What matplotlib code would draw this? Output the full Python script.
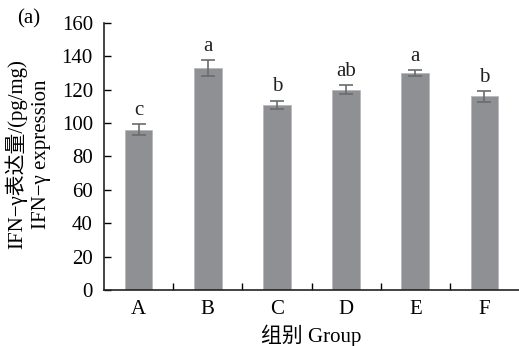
import matplotlib.pyplot as plt
from matplotlib.ticker import FixedLocator

plt.rcParams["font.family"] = ["Liberation Serif", "Noto Sans CJK SC"]
plt.rcParams["axes.unicode_minus"] = False

groups = ["A", "B", "C", "D", "E", "F"]
means = [96, 133, 111, 120, 130, 116]
errors = [3.4, 5.0, 2.5, 2.8, 1.6, 3.4]
letters = ["c", "a", "b", "ab", "a", "b"]

fig = plt.figure(figsize=(5.19, 3.46), dpi=100)
ax = fig.add_axes([0.2004, 0.162, 0.7996, 0.7715])

x = list(range(len(groups)))
ax.bar(x, means, width=0.4, color="#8f9094", edgecolor="#b8b9bb", linewidth=0.6, zorder=2)
ax.errorbar(x, means, yerr=errors, fmt="none", ecolor="#6a6b6e", elinewidth=1.2,
            capsize=5, capthick=1.2, zorder=3)

for xi, m, e, lab in zip(x, means, errors, letters):
    ax.text(xi, m + e + 2.5, lab, ha="center", va="bottom", fontsize=15, color="#222222")

ax.set_xlim(-0.5, 5.5)
ax.set_ylim(0, 160)
ax.set_yticks(range(0, 161, 20))
ax.set_xticks(x)
ax.set_xticklabels(groups)
ax.xaxis.set_minor_locator(FixedLocator([i + 0.5 for i in range(5)]))

ax.tick_params(axis="y", direction="in", length=5, width=1, labelsize=15, pad=8)
ax.tick_params(axis="x", which="major", length=0, labelsize=15, pad=7)
ax.tick_params(axis="x", which="minor", direction="in", length=5, width=1)

for side in ["top", "right"]:
    ax.spines[side].set_visible(False)
for side in ["left", "bottom"]:
    ax.spines[side].set_linewidth(1.2)
    ax.spines[side].set_color("#222222")

ax.set_xlabel("组别 Group", fontsize=15, labelpad=4)
fig.text(0.030, 0.555, "IFN−γ表达量/(pg/mg)", rotation=90, ha="center", va="center", fontsize=15)
fig.text(0.080, 0.555, "IFN−γ expression", rotation=90, ha="center", va="center", fontsize=15)
fig.text(0.033, 0.945, "(a)", ha="left", va="center", fontsize=15)

fig.savefig("out.png", dpi=100)
